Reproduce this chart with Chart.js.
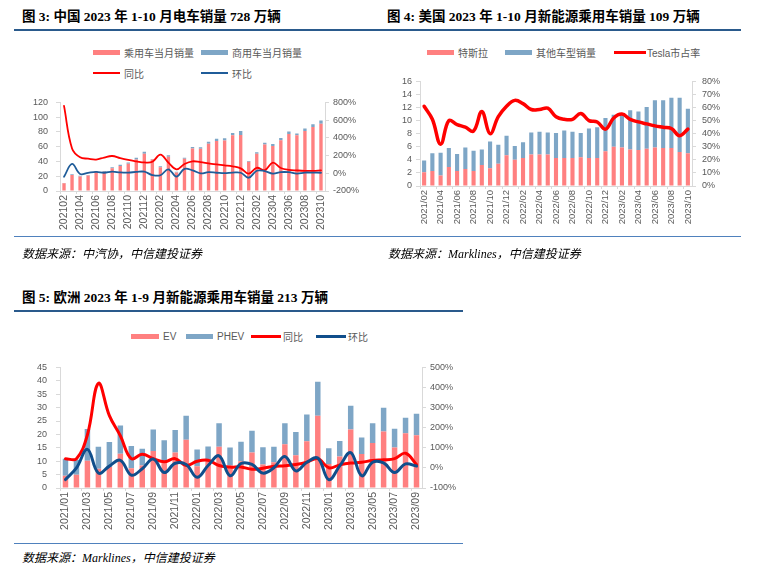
<!DOCTYPE html>
<html lang="zh-CN">
<head>
<meta charset="utf-8">
<title>新能源车销量</title>
<script src="https://cdn.jsdelivr.net/npm/chart.js@4.4.0/dist/chart.umd.min.js"></script>
<style>
  html, body { margin: 0; padding: 0; background: #fff; }
  #page { position: relative; width: 758px; height: 577px; overflow: hidden; }
  .title { position: absolute; font-family: "Liberation Serif", "Noto Sans CJK SC", serif; font-weight: bold;
           font-size: 13.5px; line-height: 18px; color: #000; white-space: nowrap; }
  .rule { position: absolute; height: 2px; background: #2A5A8C; }
  .rule-thin { position: absolute; height: 1px; background: #4F81BD; }
  .src { position: absolute; font-family: "Liberation Serif", "Noto Sans CJK SC", serif; font-style: italic;
         font-size: 12px; line-height: 16px; color: #000; white-space: nowrap; }
  .lg { position: absolute; display: flex; align-items: center; height: 14px; font-size: 10px; color: #595959;
        font-family: "Liberation Sans", "Noto Sans CJK SC", sans-serif; white-space: nowrap; }
  .lg i { display: inline-block; margin-right: 4px; }
  canvas { position: absolute; }
</style>
</head>
<body>
<div id="page">
  <!-- 图 3 -->
  <div class="title" style="left:22px;top:8px">图 3: 中国 2023 年 1-10 月电车销量 728 万辆</div>
  <div class="rule" style="left:14px;top:29px;width:366px"></div>
  <div class="lg" style="left:93px;top:45px"><i style="width:27px;height:5px;background:#FF8080"></i>乘用车当月销量</div>
  <div class="lg" style="left:201px;top:45px"><i style="width:27px;height:5px;background:#7EA6C6"></i>商用车当月销量</div>
  <div class="lg" style="left:93px;top:66px"><i style="width:27px;height:2px;background:#FF0000"></i>同比</div>
  <div class="lg" style="left:201px;top:66px"><i style="width:27px;height:2px;background:#1F5C99"></i>环比</div>
  <canvas id="cnChart" width="380" height="150" style="left:0;top:89px"></canvas>
  <div class="rule-thin" style="left:14px;top:236px;width:366px"></div>
  <div class="src" style="left:22px;top:246px">数据来源：中汽协，中信建投证券</div>

  <!-- 图 4 -->
  <div class="title" style="left:387px;top:8px">图 4: 美国 2023 年 1-10 月新能源乘用车销量 109 万辆</div>
  <div class="rule" style="left:380px;top:29px;width:361px"></div>
  <div class="lg" style="left:427px;top:45px"><i style="width:27px;height:5px;background:#FF8080"></i>特斯拉</div>
  <div class="lg" style="left:505px;top:45px"><i style="width:27px;height:5px;background:#7EA6C6"></i>其他车型销量</div>
  <div class="lg" style="left:614px;top:45px"><i style="width:32px;height:3px;background:#FF0000;margin-right:1px"></i>Tesla市占率</div>
  <canvas id="usChart" width="378" height="170" style="left:380px;top:70px"></canvas>
  <div class="rule-thin" style="left:380px;top:236px;width:361px"></div>
  <div class="src" style="left:388px;top:246px">数据来源：Marklines，中信建投证券</div>

  <!-- 图 5 -->
  <div class="title" style="left:22px;top:289px">图 5: 欧洲 2023 年 1-9 月新能源乘用车销量 213 万辆</div>
  <div class="rule" style="left:14px;top:310px;width:449px"></div>
  <div class="lg" style="left:131px;top:329px"><i style="width:28px;height:5px;background:#FF8080"></i>EV</div>
  <div class="lg" style="left:186px;top:329px"><i style="width:27px;height:5px;background:#7EA6C6"></i>PHEV</div>
  <div class="lg" style="left:251px;top:329px"><i style="width:30px;height:3px;background:#FF0000;margin-right:2px"></i>同比</div>
  <div class="lg" style="left:316px;top:329px"><i style="width:30px;height:3px;background:#104E8B;margin-right:2px"></i>环比</div>
  <canvas id="euChart" width="470" height="187" style="left:0;top:353px"></canvas>
  <div class="rule-thin" style="left:14px;top:543px;width:449px"></div>
  <div class="src" style="left:22px;top:550px">数据来源：Marklines，中信建投证券</div>
</div>

<script>
// ===== 图 3 中国：月度电车销量（万辆）与同比/环比（%） =====
const cnMonths = ['202102','202103','202104','202105','202106','202107','202108','202109','202110','202111','202112',
  '202201','202202','202203','202204','202205','202206','202207','202208','202209','202210','202211','202212',
  '202301','202302','202303','202304','202305','202306','202307','202308','202309','202310'];
const cnPassenger = [10.4, 21.6, 19.7, 20.9, 26.0, 26.2, 30.8, 34.0, 36.9, 42.8, 50.4,
  42.5, 32.1, 46.5, 25.0, 43.6, 57.6, 57.3, 64.1, 67.8, 68.4, 75.4, 75.8,
  39.6, 50.5, 62.9, 61.0, 68.9, 77.2, 75.4, 81.2, 86.8, 91.0];
const cnCommercial = [0.6, 1.0, 0.8, 0.8, 1.0, 0.8, 1.2, 1.5, 1.6, 2.2, 2.6,
  1.0, 1.4, 2.0, 1.0, 1.4, 2.0, 2.0, 2.5, 3.0, 3.0, 3.2, 5.6,
  1.2, 2.0, 2.4, 2.6, 2.8, 3.4, 2.6, 3.4, 3.6, 4.6];
const cnYoy = [760, 280, 180, 165, 155, 178, 195, 170, 150, 135, 122,
  130, 210, 120, 45, 105, 135, 125, 112, 100, 90, 78, 55,
  -5, 62, 35, 120, 60, 38, 32, 28, 28, 33];
const cnMom = [-40, 105, -8, 5, 15, 6, 18, 10, 8, 15, 18,
  -20, -22, 45, -38, 50, 33, -1, 12, 6, 1, 8, 6,
  -50, 29, 24, -3, 13, 12, -3, 8, 7, 6];

// ===== 图 4 美国：特斯拉 / 其他车型（万辆）与 Tesla 市占率（%） =====
const usMonths = ['2021/02','2021/03','2021/04','2021/05','2021/06','2021/07','2021/08','2021/09','2021/10','2021/11','2021/12',
  '2022/01','2022/02','2022/03','2022/04','2022/05','2022/06','2022/07','2022/08','2022/09','2022/10','2022/11','2022/12',
  '2023/01','2023/02','2023/03','2023/04','2023/05','2023/06','2023/07','2023/08','2023/09','2023/10'];
const usTesla = [2.1, 2.3, 1.6, 2.9, 2.3, 2.6, 2.3, 3.2, 2.7, 3.4, 4.7,
  4.0, 4.3, 4.8, 4.8, 4.8, 4.3, 4.3, 4.3, 4.4, 4.3, 4.3, 5.3,
  6.0, 5.9, 5.6, 5.5, 5.7, 5.9, 5.8, 5.8, 5.2, 5.0];
const usOther = [1.8, 2.7, 3.5, 2.9, 2.6, 3.3, 3.1, 2.4, 4.1, 2.9, 3.0,
  2.1, 2.4, 3.4, 3.5, 3.4, 3.8, 4.2, 4.0, 3.7, 4.5, 4.7, 5.1,
  4.9, 5.2, 6.0, 5.9, 6.4, 7.2, 7.3, 7.7, 8.3, 6.8];
const usShare = [61, 51, 32, 50, 47, 45, 42, 57, 40, 53, 61,
  65.5, 63, 58.5, 58.5, 59.5, 53, 51, 51, 55.5, 50, 49, 43.5,
  52, 55, 51, 49, 47.5, 46, 45, 44, 38.5, 43.5];

// ===== 图 5 欧洲：EV / PHEV（万辆）与同比/环比（%） =====
const euMonths = ['2021/01','2021/02','2021/03','2021/04','2021/05','2021/06','2021/07','2021/08','2021/09','2021/10','2021/11','2021/12',
  '2022/01','2022/02','2022/03','2022/04','2022/05','2022/06','2022/07','2022/08','2022/09','2022/10','2022/11','2022/12',
  '2023/01','2023/02','2023/03','2023/04','2023/05','2023/06','2023/07','2023/08','2023/09'];
const euEV = [4.6, 4.9, 10.2, 7.2, 7.8, 12.8, 7.4, 8.4, 13.8, 10.0, 13.2, 18.0,
  8.1, 10.2, 15.4, 8.4, 10.0, 13.2, 8.8, 9.6, 16.3, 12.2, 17.4, 27.0,
  9.0, 11.8, 21.8, 12.7, 16.8, 21.1, 15.1, 20.4, 19.7];
const euPHEV = [6.3, 5.6, 11.8, 8.2, 9.4, 10.5, 8.3, 6.2, 8.0, 7.8, 8.4, 9.0,
  6.3, 5.3, 8.8, 6.7, 7.3, 8.2, 6.4, 5.8, 7.9, 8.7, 10.0, 12.6,
  5.8, 5.7, 8.9, 6.1, 7.4, 8.8, 7.0, 5.8, 8.0];
const euYoy = [46, 46, 165, 420, 260, 160, 46, 68, 46, 30, 46, 12,
  33, 38, 12, 4, 5, -7, -2, 8, 11, 17, 28, 46,
  1, 15, 24, 28, 37, 40, 46, 73, 17];
const euMom = [-58, 0, 92, -26, 9, 38, -36, -4, 44, -23, 23, 17,
  -47, 12, 60, -39, 22, 17, -26, 1, 57, -15, 28, 49,
  -58, 10, 76, -39, 28, 25, -23, 20, 9];

(function () {
  'use strict';

  const pink = '#FF8080';
  const steel = '#7EA6C6';
  const axisGray = '#D9D9D9';

  Chart.defaults.font.family = '"Liberation Sans", "Noto Sans CJK SC", sans-serif';
  Chart.defaults.color = '#595959';

  // 横轴：竖排标签，每隔一个月显示一次
  function xAxis(labels, fontSize, height) {
    return {
      stacked: true,
      ticks: {
        autoSkip: false, minRotation: 90, maxRotation: 90, padding: 1,
        font: { size: fontSize },
        callback: (v, i) => (i % 2 === 0 ? labels[i] : '')
      },
      grid: {
        offset: true, drawOnChartArea: false, tickLength: 3,
        color: c => (c.index % 2 === 0 ? axisGray : 'rgba(0,0,0,0)')
      },
      border: { color: axisGray },
      afterFit: s => { s.height = height; }
    };
  }

  // 纵轴（左：销量，右：百分比），所有刻度都要显示
  function yAxis(position, min, max, step, width, pad, pct) {
    return {
      position: position, min: min, max: max, stacked: position === 'left',
      ticks: { stepSize: step, padding: pad, autoSkip: false, font: { size: 9 },
               callback: v => (pct ? v + '%' : v) },
      grid: { drawOnChartArea: false, tickLength: 4, color: axisGray },
      border: { color: axisGray },
      afterFit: s => { s.width = width; }
    };
  }

  function barSet(label, data, color, pct) {
    return { label: label, data: data, backgroundColor: color, stack: 's', yAxisID: 'y',
             barPercentage: pct, categoryPercentage: 1, order: 3 };
  }

  function lineSet(label, data, color, width, order) {
    return { type: 'line', label: label, data: data, yAxisID: 'y1', borderColor: color,
             backgroundColor: color, borderWidth: width, pointRadius: 0, tension: 0.4,
             borderJoinStyle: 'round', borderCapStyle: 'round', fill: false, order: order };
  }

  function baseOptions(scales) {
    return {
      responsive: false, animation: false, devicePixelRatio: 1,
      layout: { padding: { top: 10, left: 0, right: 0, bottom: 0 } },
      plugins: { legend: { display: false }, tooltip: { enabled: false } },
      scales: scales
    };
  }

  // 图 3
  new Chart(document.getElementById('cnChart'), {
    type: 'bar',
    data: {
      labels: cnMonths,
      datasets: [
        barSet('乘用车当月销量', cnPassenger, pink, 0.42),
        barSet('商用车当月销量', cnCommercial, steel, 0.42),
        lineSet('同比', cnYoy, '#FF0000', 1.8, 1),
        lineSet('环比', cnMom, '#1F5C99', 1.8, 0)
      ]
    },
    options: baseOptions({
      x: xAxis(cnMonths, 10.5, 48),
      y: yAxis('left', 0, 120, 20, 60, 8, false),
      y1: yAxis('right', -200, 800, 200, 55, 4, true)
    })
  });

  // 图 4
  new Chart(document.getElementById('usChart'), {
    type: 'bar',
    data: {
      labels: usMonths,
      datasets: [
        barSet('特斯拉', usTesla, pink, 0.5),
        barSet('其他车型销量', usOther, steel, 0.5),
        lineSet('Tesla市占率', usShare, '#FF0000', 3.5, 0)
      ]
    },
    options: baseOptions({
      x: xAxis(usMonths, 9.5, 54),
      y: yAxis('left', 0, 16, 2, 40, 4, false),
      y1: yAxis('right', 0, 80, 10, 66, 6, true)
    })
  });

  // 图 5
  new Chart(document.getElementById('euChart'), {
    type: 'bar',
    data: {
      labels: euMonths,
      datasets: [
        barSet('EV', euEV, pink, 0.5),
        barSet('PHEV', euPHEV, steel, 0.5),
        lineSet('同比', euYoy, '#FF0000', 3, 1),
        lineSet('环比', euMom, '#104E8B', 3, 0)
      ]
    },
    options: baseOptions({
      x: xAxis(euMonths, 10.5, 52),
      y: yAxis('left', 0, 45, 5, 60, 9, false),
      y1: yAxis('right', -100, 500, 100, 48, 4, true)
    })
  });
})();
</script>
</body>
</html>
